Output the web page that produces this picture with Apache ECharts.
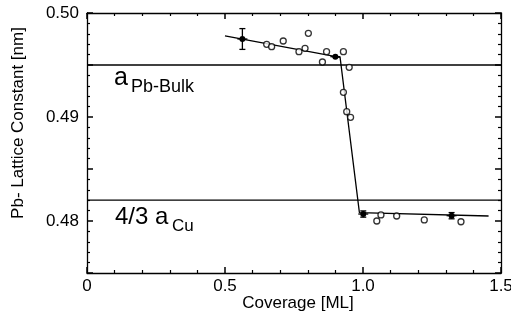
<!DOCTYPE html>
<html><head><meta charset="utf-8">
<script src="https://cdn.jsdelivr.net/npm/echarts@6/dist/echarts.min.js"></script>
<style>html,body{margin:0;padding:0;background:#fff}#c{width:511px;height:329px}</style>
</head><body><div id="c"></div>
<script>
// Open circles (measurements)
const openCoverage = [0.651, 0.669, 0.711, 0.768, 0.790, 0.802, 0.853, 0.868, 0.929, 0.950, 0.929, 0.941, 0.955, 1.050, 1.065, 1.122, 1.222, 1.355];
const openLattice  = [0.49699, 0.49676, 0.49731, 0.49628, 0.49660, 0.49805, 0.49529, 0.49628, 0.49628, 0.49478, 0.49237, 0.49051, 0.48997, 0.48000, 0.48058, 0.48048, 0.48010, 0.47993];
// Filled points with error bars
const filledCoverage = [0.563, 0.900, 1.001, 1.321];
const filledLattice  = [0.4975, 0.4958, 0.48067, 0.48051];
const filledError    = [0.001, 0.0, 0.0003, 0.0003];
// Fit line
const fitCoverage = [0.50, 0.917, 0.987, 1.455];
const fitLattice  = [0.49779, 0.49574, 0.48080, 0.48048];
// Reference lattice constants
const bulkPb = 0.4950;
const fourThirdsCu = 0.4820;
const xTicks = [0, 0.5, 1.0, 1.5];
const yTickLabels = ['0.48', '0.49', '0.50'];

const FONT = 'Liberation Sans, Arial, Helvetica, sans-serif';
const chart = echarts.init(document.getElementById('c'));

function axisBase() {
  return {
    axisLine: {show: true, onZero: false, lineStyle: {color: '#000', width: 1.3}},
    axisTick: {show: true, inside: true, length: 6, lineStyle: {color: '#000', width: 1.5}},
    minorTick: {show: true, splitNumber: 5, length: 3, lineStyle: {color: '#000', width: 1.2}},
    splitLine: {show: false}
  };
}

const xMain = Object.assign(axisBase(), {
  type: 'value', min: 0, max: 1.5, interval: 0.5, position: 'bottom',
  axisLabel: {color: '#000', fontFamily: FONT, fontSize: 17, margin: 5,
    formatter: v => (xTicks.indexOf(v) >= 0 ? (v === 0 ? '0' : v.toFixed(1)) : '')}
});
const xTop = Object.assign(axisBase(), {
  type: 'value', min: 0, max: 1.5, interval: 0.5, position: 'top', axisLabel: {show: false}
});
const yMain = Object.assign(axisBase(), {
  type: 'value', min: 0.475, max: 0.50, interval: 0.005, position: 'left',
  axisLabel: {color: '#000', fontFamily: FONT, fontSize: 17, margin: 8,
    formatter: v => { const s = v.toFixed(2); return (Math.abs(v*100 - Math.round(v*100)) < 1e-6 && yTickLabels.indexOf(s) >= 0) ? s : ''; }}
});
const yRight = Object.assign(axisBase(), {
  type: 'value', min: 0.475, max: 0.50, interval: 0.005, position: 'right', axisLabel: {show: false}
});

const errData = filledCoverage.map((x, i) => [x, filledLattice[i], filledLattice[i] - filledError[i], filledLattice[i] + filledError[i]]);

chart.setOption({
  animation: false,
  backgroundColor: '#fff',
  grid: {left: 87, right: 10, top: 13, bottom: 56, outerBoundsMode: 'none'},
  xAxis: [xMain, xTop],
  yAxis: [yMain, yRight],
  graphic: [
    {type: 'text', left: 114, top: 66, style: {text: 'a', fontFamily: FONT, fontSize: 25, fill: '#000'}},
    {type: 'text', left: 131, top: 78, style: {text: 'Pb-Bulk', fontFamily: FONT, fontSize: 18, fill: '#000'}},
    {type: 'text', left: 115, top: 205, style: {text: '4/3 a', fontFamily: FONT, fontSize: 24, fill: '#000'}},
    {type: 'text', left: 172, top: 218, style: {text: 'Cu', fontFamily: FONT, fontSize: 17, fill: '#000'}},
    {type: 'text', x: 18, y: 123, rotation: Math.PI / 2, style: {text: 'Pb- Lattice Constant [nm]', fontFamily: FONT, fontSize: 17, fill: '#000', align: 'center', verticalAlign: 'middle'}},
    {type: 'text', x: 298, y: 303, style: {text: 'Coverage [ML]', fontFamily: FONT, fontSize: 17, fill: '#000', align: 'center', verticalAlign: 'middle'}}
  ],
  series: [
    {type: 'line', data: [[0, bulkPb], [1.5, bulkPb]], symbol: 'none', lineStyle: {color: '#000', width: 1.3}, silent: true},
    {type: 'line', data: [[0, fourThirdsCu], [1.5, fourThirdsCu]], symbol: 'none', lineStyle: {color: '#000', width: 1.3}, silent: true},
    {type: 'line', data: fitCoverage.map((x, i) => [x, fitLattice[i]]), symbol: 'none', lineStyle: {color: '#000', width: 1.3}},
    {type: 'scatter', data: openCoverage.map((x, i) => [x, openLattice[i]]), symbol: 'circle', symbolSize: 6,
      itemStyle: {color: '#fff', borderColor: '#000', borderWidth: 1.3}, z: 5},
    {type: 'custom', data: errData, z: 6,
      renderItem: (params, api) => {
        const p = api.coord([api.value(0), api.value(1)]);
        const lo = api.coord([api.value(0), api.value(2)]);
        const hi = api.coord([api.value(0), api.value(3)]);
        const st = {stroke: '#000', lineWidth: 1.3};
        const children = [
          {type: 'line', shape: {x1: p[0], y1: lo[1], x2: p[0], y2: hi[1]}, style: st},
          {type: 'line', shape: {x1: p[0]-3, y1: lo[1], x2: p[0]+3, y2: lo[1]}, style: st},
          {type: 'line', shape: {x1: p[0]-3, y1: hi[1], x2: p[0]+3, y2: hi[1]}, style: st},
          {type: 'line', shape: {x1: p[0]-5, y1: p[1], x2: p[0]+5, y2: p[1]}, style: st},
          {type: 'circle', shape: {cx: p[0], cy: p[1], r: 3}, style: {fill: '#000'}}
        ];
        return {type: 'group', children};
      }}
  ]
});
</script></body></html>
